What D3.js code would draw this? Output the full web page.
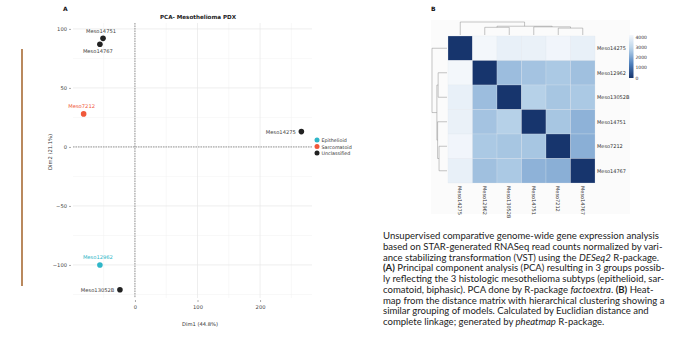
<!DOCTYPE html>
<html><head><meta charset="utf-8">
<script src="https://cdn.jsdelivr.net/npm/d3@7"></script>
<style>body{margin:0;background:#fff}svg{display:block}</style>
</head><body>
<svg id="c" width="682" height="345"></svg>
<script>
// ---------------- DATA ----------------
const pcaNames  = ["Meso14751","Meso14767","Meso7212","Meso14275","Meso12962","Meso13052B"];
const pcaDim1   = [-51, -56, -82, 266, -56, -24];
const pcaDim2   = [92, 87, 28, 13, -100, -121];
const pcaGroup  = ["Unclassified","Unclassified","Sarcomatoid","Unclassified","Epithelioid","Unclassified"];
const groups    = ["Epithelioid","Sarcomatoid","Unclassified"];
const xTicks    = [0, 100, 200];
const yTicks    = [-100, -50, 0, 50, 100];
const xMinor    = [-50, 50, 150, 250];
const yMinor    = [-125, -75, -25, 25, 75];

const hmNames = ["Meso14275","Meso12962","Meso13052B","Meso14751","Meso7212","Meso14767"];
const hmDist = [
  [0,    4150, 3900, 3950, 4100, 3900],
  [4150, 0,    2450, 2550, 2650, 2500],
  [3900, 2450, 0,    2800, 2600, 2650],
  [3950, 2550, 2800, 0,    2600, 2250],
  [4100, 2650, 2600, 2600, 0,    2200],
  [3900, 2500, 2650, 2250, 2200, 0   ]
];
const legendTicks = [0, 1000, 2000, 3000, 4000];

const captionLines = [
  [["Unsupervised comparative genome-wide gene expression analysis",""]],
  [["based on STAR-generated RNASeq read counts normalized by vari-",""]],
  [["ance stabilizing transformation (VST) using the ",""],["DESeq2","i"],[" R-package.",""]],
  [["(A)","b"],[" Principal component analysis (PCA) resulting in 3 groups possib-",""]],
  [["ly reflecting the 3 histologic mesothelioma subtyps (epithelioid, sar-",""]],
  [["comatoid, biphasic). PCA done by R-package ",""],["factoextra","i"],[". ",""],["(B)","b"],[" Heat-",""]],
  [["map from the distance matrix with hierarchical clustering showing a",""]],
  [["similar grouping of models. Calculated by Euclidian distance and",""]],
  [["complete linkage; generated by ",""],["pheatmap","i"],[" R-package.",""]]
];

// ---------------- DRAW ----------------
const svg = d3.select("#c");
const FONT = "'DejaVu Sans', sans-serif";

// brown side rule
svg.append("line").attr("x1",22).attr("x2",22).attr("y1",49).attr("y2",286)
  .attr("stroke","#a86b35").attr("stroke-width",1.6);

// panel letters
svg.append("text").attr("x",63).attr("y",11).text("A")
  .attr("font-family",FONT).attr("font-weight","bold").attr("font-size",6).attr("fill","#111");
svg.append("text").attr("x",431).attr("y",11).text("B")
  .attr("font-family",FONT).attr("font-weight","bold").attr("font-size",6).attr("fill","#111");

// ---- PCA ----
const x = d3.scaleLinear().domain([-99, 283]).range([73, 312]);
const y = d3.scaleLinear().domain([105, -128]).range([23, 298]);
const color = d3.scaleOrdinal().domain(groups).range(["#2fb6c8","#f0583a","#222222"]);
const g = svg.append("g");

g.selectAll(".vminor").data(xMinor).join("line")
  .attr("x1",d=>x(d)).attr("x2",d=>x(d)).attr("y1",y.range()[0]).attr("y2",y.range()[1])
  .attr("stroke","#f0f0f0").attr("stroke-width",0.5);
g.selectAll(".hminor").data(yMinor).join("line")
  .attr("y1",d=>y(d)).attr("y2",d=>y(d)).attr("x1",x.range()[0]).attr("x2",x.range()[1])
  .attr("stroke","#f0f0f0").attr("stroke-width",0.5);
g.selectAll(".vmajor").data(xTicks).join("line")
  .attr("x1",d=>x(d)).attr("x2",d=>x(d)).attr("y1",y.range()[0]).attr("y2",y.range()[1])
  .attr("stroke","#e6e6e6").attr("stroke-width",0.7);
g.selectAll(".hmajor").data(yTicks).join("line")
  .attr("y1",d=>y(d)).attr("y2",d=>y(d)).attr("x1",x.range()[0]).attr("x2",x.range()[1])
  .attr("stroke","#e6e6e6").attr("stroke-width",0.7);

// dashed zero lines
g.append("line").attr("x1",x(0)).attr("x2",x(0)).attr("y1",y.range()[0]).attr("y2",y.range()[1])
  .attr("stroke","#555").attr("stroke-width",0.6).attr("stroke-dasharray","1.5,1");
g.append("line").attr("y1",y(0)).attr("y2",y(0)).attr("x1",x.range()[0]).attr("x2",x.range()[1])
  .attr("stroke","#555").attr("stroke-width",0.6).attr("stroke-dasharray","1.5,1");

// axes
const ax = g.append("g").attr("transform",`translate(0,${y.range()[1]+2})`)
  .call(d3.axisBottom(x).tickValues(xTicks).tickSize(2).tickPadding(3));
const ay = g.append("g").attr("transform",`translate(${x.range()[0]-2},0)`)
  .call(d3.axisLeft(y).tickValues(yTicks).tickSize(2).tickPadding(2));
[ax,ay].forEach(a=>{
  a.select(".domain").remove();
  a.selectAll("line").attr("stroke","#555").attr("stroke-width",0.5);
  a.selectAll("text").attr("font-family",FONT).attr("font-size",5.2).attr("fill","#444");
});

// title & axis titles
g.append("text").attr("x",198).attr("y",19).attr("text-anchor","middle")
  .attr("font-family",FONT).attr("font-weight","bold").attr("font-size",5.6).attr("fill","#222")
  .text("PCA- Mesothelioma PDX");
g.append("text").attr("x",200).attr("y",326).attr("text-anchor","middle")
  .attr("font-family",FONT).attr("font-size",5.2).attr("fill","#333").text("Dim1 (44.8%)");
g.append("text").attr("transform","translate(52,152) rotate(-90)").attr("text-anchor","middle")
  .attr("font-family",FONT).attr("font-size",5.2).attr("fill","#333").text("Dim2 (21.1%)");

// points
const pts = pcaNames.map((n,i)=>({name:n, d1:pcaDim1[i], d2:pcaDim2[i], grp:pcaGroup[i]}));
g.selectAll(".pt").data(pts).join("circle")
  .attr("cx",d=>x(d.d1)).attr("cy",d=>y(d.d2)).attr("r",2.8)
  .attr("fill",d=>color(d.grp));

// point labels (placement style keyed by name)
const place = {Meso14751:"above",Meso14767:"below",Meso7212:"above",Meso14275:"left",Meso12962:"above",Meso13052B:"left"};
g.selectAll(".lab").data(pts).join("text")
  .attr("x",d=>place[d.name]==="left" ? x(d.d1)-5.5 : x(d.d1)-2)
  .attr("y",d=>place[d.name]==="above" ? y(d.d2)-5.5 : place[d.name]==="below" ? y(d.d2)+8.5 : y(d.d2)+2)
  .attr("text-anchor",d=>place[d.name]==="left" ? "end" : "middle")
  .attr("font-family",FONT).attr("font-size",5.2)
  .attr("fill",d=>d.grp==="Unclassified" ? "#444" : color(d.grp))
  .text(d=>d.name);

// legend
const lg = g.append("g");
groups.forEach((gr,i)=>{
  lg.append("circle").attr("cx",317).attr("cy",140+i*6.5).attr("r",2.5).attr("fill",color(gr));
  lg.append("text").attr("x",321.5).attr("y",142+i*6.5).attr("font-family",FONT)
    .attr("font-size",4.8).attr("fill","#333").text(gr);
});

// ---- HEATMAP ----
const hb = svg.append("g");
hb.append("rect").attr("x",431).attr("y",20).attr("width",199).attr("height",194).attr("fill","#fbfbfb");
const n = hmNames.length;
const cx = d3.scaleBand().domain(d3.range(n)).range([448, 595]);
const cy = d3.scaleBand().domain(d3.range(n)).range([36, 183]);
const maxD = 4200;
const heat = d3.scaleLinear().domain([0, 1400, 2800, 4200])
  .range(["#17356d","#4f82bf","#b6d1e8","#f5f8fc"]).clamp(true);
const cells = [];
hmDist.forEach((row,i)=>row.forEach((v,j)=>cells.push({i,j,v})));
hb.selectAll(".cell").data(cells).join("rect")
  .attr("x",d=>cx(d.j)).attr("y",d=>cy(d.i))
  .attr("width",cx.bandwidth()).attr("height",cy.bandwidth())
  .attr("fill",d=>heat(d.v)).attr("stroke","#dde3ea").attr("stroke-width",0.25);

// row labels
hb.selectAll(".rl").data(hmNames).join("text")
  .attr("x",597).attr("y",(d,i)=>cy(i)+cy.bandwidth()/2+1.8)
  .attr("font-family",FONT).attr("font-size",5).attr("fill","#333").text(d=>d);
// column labels
hb.selectAll(".cl").data(hmNames).join("text")
  .attr("transform",(d,i)=>`translate(${cx(i)+cx.bandwidth()/2-1.8},${186}) rotate(90)`)
  .attr("font-family",FONT).attr("font-size",5).attr("fill","#333").text(d=>d);

// complete-linkage clustering
function cluster(D){
  let nodes = D.map((_,i)=>({members:[i], h:0, pos:i}));
  const merges = [];
  while(nodes.length>1){
    let best=null;
    for(let a=0;a<nodes.length;a++) for(let b=a+1;b<nodes.length;b++){
      let m=0; nodes[a].members.forEach(p=>nodes[b].members.forEach(q=>{m=Math.max(m,D[p][q]);}));
      if(!best||m<best.m) best={a,b,m};
    }
    const A=nodes[best.a], B=nodes[best.b];
    const node={members:A.members.concat(B.members), h:best.m, pos:(A.pos+B.pos)/2, left:A, right:B};
    merges.push(node);
    nodes = nodes.filter((_,k)=>k!==best.a&&k!==best.b); nodes.push(node);
  }
  return merges;
}
const merges = cluster(hmDist);
const hTop = d3.scaleLinear().domain([0, d3.max(merges,m=>m.h)]).range([35, 22]);
const hLeft = d3.scaleLinear().domain([0, d3.max(merges,m=>m.h)]).range([447, 432]);
const posX = p => cx(0) + (p+0.5)*cx.bandwidth();
const posY = p => cy(0) + (p+0.5)*cy.bandwidth();
const dstroke = "#8c8c8c";
merges.forEach(m=>{
  const pathT = `M${posX(m.left.pos)},${hTop(m.left.h)}V${hTop(m.h)}H${posX(m.right.pos)}V${hTop(m.right.h)}`;
  hb.append("path").attr("d",pathT).attr("fill","none").attr("stroke",dstroke).attr("stroke-width",0.5);
  const pathL = `M${hLeft(m.left.h)},${posY(m.left.pos)}H${hLeft(m.h)}V${posY(m.right.pos)}H${hLeft(m.right.h)}`;
  hb.append("path").attr("d",pathL).attr("fill","none").attr("stroke",dstroke).attr("stroke-width",0.5);
});

// color legend
const ls = d3.scaleLinear().domain([0, maxD]).range([78, 35]);
const defs = svg.append("defs");
const grad = defs.append("linearGradient").attr("id","lgd").attr("x1",0).attr("x2",0).attr("y1",1).attr("y2",0);
d3.range(0,1.001,0.1).forEach(t=>grad.append("stop").attr("offset",t).attr("stop-color",heat(t*maxD)));
hb.append("rect").attr("x",629).attr("y",ls(maxD)).attr("width",4.5).attr("height",ls(0)-ls(maxD)).attr("fill","url(#lgd)");
hb.selectAll(".lt").data(legendTicks).join("text")
  .attr("x",635.5).attr("y",d=>ls(d)+1.6).attr("font-family",FONT).attr("font-size",4.5).attr("fill","#333")
  .text(d=>d);

// ---- CAPTION ----
const cap = svg.append("g");
const CAPFONT = "Lato, 'Open Sans', sans-serif";
const texts = captionLines.map((parts,li)=>{
  const t = cap.append("text").attr("x",383).attr("y",239+li*10.75)
    .attr("font-family",CAPFONT).attr("fill","#222");
  parts.forEach(([s,st])=>{
    const ts=t.append("tspan").text(s);
    if(st==="i") ts.attr("font-style","italic");
    if(st==="b") ts.attr("font-weight","bold");
  });
  return t;
});
texts.forEach(t=>t.attr("font-size",10));
const w0 = texts[0].node().getComputedTextLength();
const fs = 10*276/w0;
texts.forEach(t=>t.attr("font-size",fs));
</script>
</body></html>
